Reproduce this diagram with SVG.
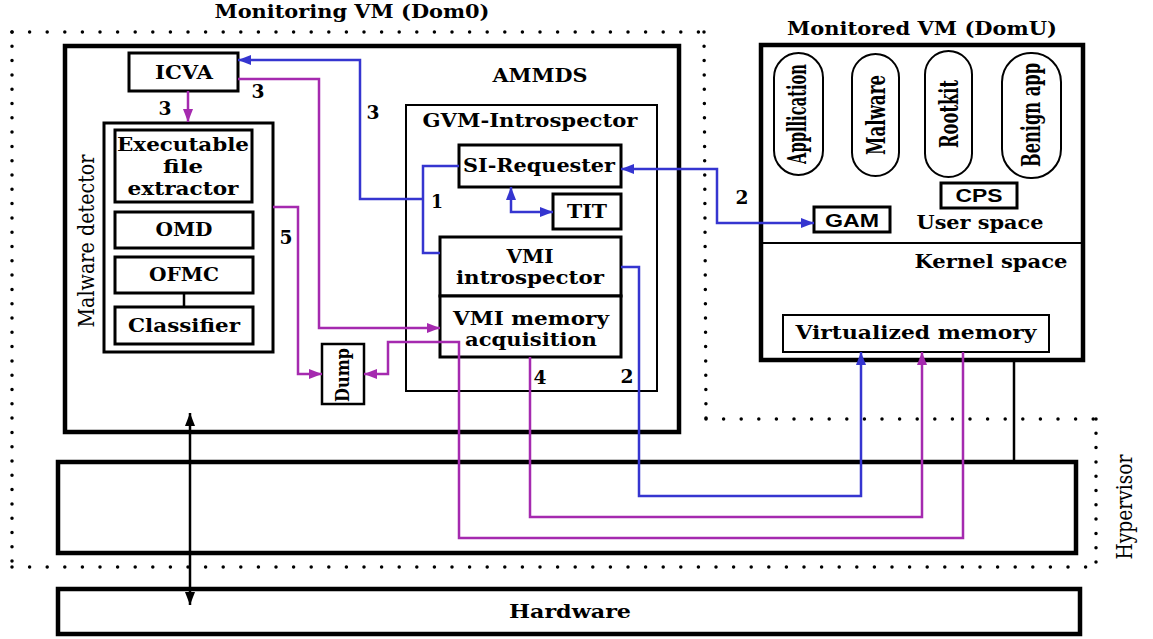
<svg xmlns="http://www.w3.org/2000/svg" width="1153" height="639" viewBox="0 0 1153 639">
<style>
.t{font-family:"DejaVu Serif","Liberation Serif",serif;font-weight:bold;font-size:18px;fill:#000;text-anchor:middle}
.s{font-family:"Liberation Sans",Arial,sans-serif;font-weight:bold;font-size:18px;fill:#000;text-anchor:middle}
.c{font-family:"DejaVu Serif","Liberation Serif",serif;font-size:23px;fill:#000;text-anchor:middle}
.p{font-family:"DejaVu Serif","Liberation Serif",serif;font-weight:bold;font-size:26px;fill:#000;text-anchor:middle}
.box{fill:#fff;stroke:#000;stroke-width:3}
.thick{fill:none;stroke:#000;stroke-width:4.5}
.dh{fill:none;stroke:#000;stroke-width:3.5;stroke-linecap:round;stroke-dasharray:0 17.6}
.dv{fill:none;stroke:#000;stroke-width:3.5;stroke-linecap:round;stroke-dasharray:0 14.3}
.b{fill:none;stroke:#3535d0;stroke-width:2.5}
.m{fill:none;stroke:#a52aaf;stroke-width:2.5}
.k{fill:none;stroke:#000;stroke-width:2.5}
</style>
<defs>
<marker id="ab" markerUnits="userSpaceOnUse" markerWidth="14" markerHeight="12" refX="13" refY="5" orient="auto-start-reverse"><path d="M0,0 L13,5 L0,10 z" fill="#3535d0"/></marker>
<marker id="am" markerUnits="userSpaceOnUse" markerWidth="14" markerHeight="12" refX="13" refY="5" orient="auto-start-reverse"><path d="M0,0 L13,5 L0,10 z" fill="#a52aaf"/></marker>
<marker id="ak" markerUnits="userSpaceOnUse" markerWidth="14" markerHeight="12" refX="13" refY="5" orient="auto-start-reverse"><path d="M0,0 L13,5 L0,10 z" fill="#000"/></marker>
</defs>
<rect width="1153" height="639" fill="#fff"/>

<g id="dotted-regions">
<line class="dh" x1="12" y1="32" x2="704" y2="32"/>
<line class="dv" x1="12" y1="32" x2="12" y2="567"/>
<line class="dv" x1="704" y1="32" x2="706" y2="419"/>
<line class="dh" x1="706" y1="419" x2="1096" y2="419"/>
<line class="dv" x1="1096" y1="419" x2="1096" y2="567"/>
<line class="dh" x1="12" y1="567" x2="1096" y2="567"/>
<text class="t" x="352" y="18" textLength="275" lengthAdjust="spacingAndGlyphs">Monitoring VM (Dom0)</text>
<text class="c" transform="translate(1125,507) rotate(-90)" x="0" y="7" font-size="21" textLength="105" lengthAdjust="spacingAndGlyphs">Hypervisor</text>
</g>

<g id="ammds">
<rect class="thick" x="65" y="46" width="614" height="386"/>
<text class="t" x="540" y="82" textLength="95" lengthAdjust="spacingAndGlyphs">AMMDS</text>
</g>

<g id="hypervisor">
<rect class="thick" x="58" y="462" width="1018" height="91"/>
</g>

<g id="hardware">
<rect class="thick" x="58" y="589" width="1022" height="45"/>
<text class="t" x="570" y="618" font-size="19" textLength="122" lengthAdjust="spacingAndGlyphs">Hardware</text>
</g>

<g id="monitored-vm">
<rect class="thick" x="761" y="45" width="322" height="315"/>
<line x1="761" y1="243" x2="1083" y2="243" stroke="#000" stroke-width="2"/>
<text class="t" x="922" y="35" textLength="270" lengthAdjust="spacingAndGlyphs">Monitored VM (DomU)</text>
<text class="t" x="980" y="229" textLength="127" lengthAdjust="spacingAndGlyphs">User space</text>
<text class="t" x="991" y="268" textLength="153" lengthAdjust="spacingAndGlyphs">Kernel space</text>
</g>

<g id="app-application">
<rect x="774" y="53" width="49" height="122" rx="24.5" fill="#fff" stroke="#000" stroke-width="2"/>
<text class="p" transform="translate(798.5,114) rotate(-90)" x="0" y="7" font-size="21" textLength="100" lengthAdjust="spacingAndGlyphs">Appllication</text>
</g>
<g id="app-malware">
<rect x="852" y="54" width="47" height="122" rx="23.5" fill="#fff" stroke="#000" stroke-width="2"/>
<text class="p" transform="translate(875.5,115) rotate(-90)" x="0" y="9" textLength="80" lengthAdjust="spacingAndGlyphs">Malware</text>
</g>
<g id="app-rootkit">
<rect x="925" y="51" width="47" height="126" rx="23.5" fill="#fff" stroke="#000" stroke-width="2"/>
<text class="p" transform="translate(948.5,114) rotate(-90)" x="0" y="9" textLength="68" lengthAdjust="spacingAndGlyphs">Rootkit</text>
</g>
<g id="app-benign">
<rect x="1002" y="53" width="59" height="125" rx="29" fill="#fff" stroke="#000" stroke-width="2"/>
<text class="p" transform="translate(1031.5,115) rotate(-90)" x="0" y="8" textLength="104" lengthAdjust="spacingAndGlyphs">Benign app</text>
</g>

<g id="cps">
<rect class="box" x="941" y="183" width="76" height="25"/>
<text class="s" x="979" y="202" font-size="17" textLength="47" lengthAdjust="spacingAndGlyphs">CPS</text>
</g>
<g id="gam">
<rect class="box" x="814" y="207" width="76" height="25"/>
<text class="s" x="852" y="227" textLength="54" lengthAdjust="spacingAndGlyphs">GAM</text>
</g>
<g id="virtualized-memory">
<rect x="783" y="315" width="266" height="37" fill="#fff" stroke="#000" stroke-width="2"/>
<text class="t" x="916" y="339" font-size="15" textLength="241" lengthAdjust="spacingAndGlyphs">Virtualized memory</text>
</g>

<g id="icva">
<rect class="box" x="129" y="53" width="109" height="38"/>
<text class="t" x="184" y="79" textLength="58" lengthAdjust="spacingAndGlyphs">ICVA</text>
</g>

<g id="malware-detector">
<rect class="box" x="104" y="123" width="169" height="229"/>
<text class="c" transform="translate(86,241) rotate(-90)" x="0" y="8" font-size="22" textLength="173" lengthAdjust="spacingAndGlyphs">Malware detector</text>
</g>
<g id="exe-extractor">
<rect class="box" x="115" y="130" width="137" height="72"/>
<text class="t" x="183" y="151" textLength="132" lengthAdjust="spacingAndGlyphs">Executable</text>
<text class="t" x="183" y="173" textLength="40" lengthAdjust="spacingAndGlyphs">file</text>
<text class="t" x="183" y="195" textLength="111" lengthAdjust="spacingAndGlyphs">extractor</text>
</g>
<g id="omd">
<rect class="box" x="115" y="212" width="138" height="36"/>
<text class="t" x="184" y="236" textLength="57" lengthAdjust="spacingAndGlyphs">OMD</text>
</g>
<g id="ofmc">
<rect class="box" x="115" y="257" width="138" height="36"/>
<text class="t" x="184" y="281" textLength="70" lengthAdjust="spacingAndGlyphs">OFMC</text>
</g>
<g id="classifier">
<rect class="box" x="115" y="307" width="138" height="37"/>
<text class="t" x="184" y="332" textLength="112" lengthAdjust="spacingAndGlyphs">Classifier</text>
</g>

<g id="dump">
<rect x="322" y="344" width="42" height="60" fill="#fff" stroke="#000" stroke-width="2.5"/>
<text class="t" transform="translate(343,375) rotate(-90)" x="0" y="6" font-size="19" textLength="54" lengthAdjust="spacingAndGlyphs">Dump</text>
</g>

<g id="gvm-introspector">
<rect x="406" y="105" width="251" height="286" fill="none" stroke="#000" stroke-width="2"/>
<text class="t" x="530" y="127" textLength="215" lengthAdjust="spacingAndGlyphs">GVM-Introspector</text>
</g>
<g id="si-requester">
<rect class="box" x="459" y="145" width="162" height="42"/>
<text class="t" x="539" y="172" textLength="152" lengthAdjust="spacingAndGlyphs">SI-Requester</text>
</g>
<g id="tit">
<rect class="box" x="553" y="194" width="68" height="35"/>
<text class="t" x="587" y="218" textLength="40" lengthAdjust="spacingAndGlyphs">TIT</text>
</g>
<g id="vmi-introspector">
<rect class="box" x="440" y="237" width="181" height="59"/>
<text class="t" x="530" y="263" textLength="47" lengthAdjust="spacingAndGlyphs">VMI</text>
<text class="t" x="530" y="284" textLength="148" lengthAdjust="spacingAndGlyphs">introspector</text>
</g>
<g id="vmi-memory-acquisition">
<rect class="box" x="440" y="296" width="181" height="61"/>
<text class="t" x="531" y="325" textLength="156" lengthAdjust="spacingAndGlyphs">VMI memory</text>
<text class="t" x="531" y="346" textLength="132" lengthAdjust="spacingAndGlyphs">acquisition</text>
</g>

<g id="connectors">
<path class="m" d="M188,91 L188,122" marker-end="url(#am)"/>
<path class="m" d="M238,79 L319,79 L319,328 L440,328" marker-end="url(#am)"/>
<path class="b" d="M459,166 L423,166 L423,253 L440,253"/>
<path class="b" d="M423,199 L360,199 L360,60 L238,60" marker-end="url(#ab)"/>
<path class="b" d="M511,187 L511,212 L553,212" marker-start="url(#ab)" marker-end="url(#ab)"/>
<path class="b" d="M814,223 L717,223 L717,169 L621,169" marker-start="url(#ab)" marker-end="url(#ab)"/>
<path class="m" d="M273,207 L298,207 L298,374 L322,374" marker-end="url(#am)"/>
<path class="m" d="M963,352 L963,538 L459,538 L459,342 L388,342 L388,374 L364,374" marker-end="url(#am)"/>
<path class="m" d="M530,357 L530,517 L922,517 L922,352" marker-end="url(#am)"/>
<path class="b" d="M621,267 L639,267 L639,496 L861,496 L861,352" marker-end="url(#ab)"/>
<path class="k" d="M190,413 L190,605" marker-start="url(#ak)" marker-end="url(#ak)"/>
<path class="k" d="M1014,360 L1014,462"/>
<path class="k" d="M184,293 L184,307" stroke-width="2"/>
<text class="t" x="165" y="115" textLength="13" lengthAdjust="spacingAndGlyphs">3</text>
<text class="t" x="258" y="98" textLength="13" lengthAdjust="spacingAndGlyphs">3</text>
<text class="t" x="373" y="119" textLength="13" lengthAdjust="spacingAndGlyphs">3</text>
<text class="t" x="437" y="208" textLength="12" lengthAdjust="spacingAndGlyphs">1</text>
<text class="t" x="742" y="204" textLength="13" lengthAdjust="spacingAndGlyphs">2</text>
<text class="t" x="286" y="244" textLength="13" lengthAdjust="spacingAndGlyphs">5</text>
<text class="t" x="540" y="384" textLength="13" lengthAdjust="spacingAndGlyphs">4</text>
<text class="t" x="627" y="383" textLength="13" lengthAdjust="spacingAndGlyphs">2</text>
</g>
</svg>
